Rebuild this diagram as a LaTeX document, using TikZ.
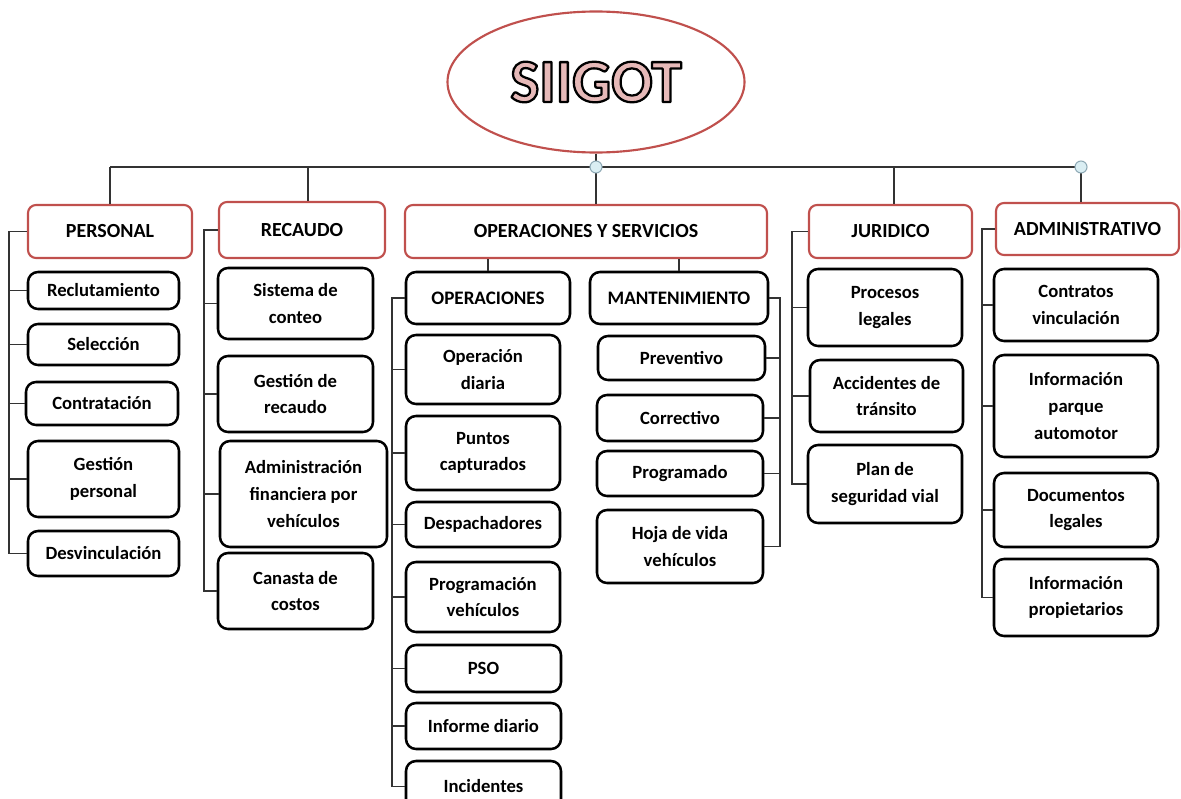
\documentclass[tikz,border=0pt]{standalone}
\usepackage{fontspec}
\setmainfont{Carlito}
\usetikzlibrary{shapes.geometric}
\definecolor{hred}{HTML}{C0504D}
\definecolor{sgpink}{HTML}{E6B9B8}
\definecolor{linegray}{HTML}{333333}
\definecolor{circfill}{HTML}{DAEEF3}
\definecolor{circline}{HTML}{8EA9B5}
\newcommand\bx[7]{\node[#1, minimum width={(#4-#2)*0.75pt}, minimum height={(#5-#3)*0.75pt}] (#6) at ({(#2+#4)/2},{(#3+#5)/2}) {#7};}
\newcommand\outlined[1]{{\color{sgpink}\special{pdf:literal direct 0 0 0 RG 2 Tr 1.7 w 1 j}#1\special{pdf:literal direct 0 Tr}}}
\tikzset{
  hbox/.style={draw=hred, line width=1.6pt, rounded corners=6pt, fill=white, inner sep=0pt, align=center, font=\bfseries\fontsize{15}{18}\selectfont},
  cbox/.style={draw=black, line width=1.9pt, rounded corners=7.5pt, fill=white, inner sep=0pt, align=center, font=\bfseries\fontsize{14}{20}\selectfont},
  sbox/.style={cbox, font=\bfseries\fontsize{14.3}{18}\selectfont},
  link/.style={draw=linegray, line width=1.1pt},
  knob/.style={circle, draw=circline, fill=circfill, line width=0.8pt, minimum size=9pt, inner sep=0pt}
}
\begin{document}
\begin{tikzpicture}[x=0.75pt,y=-0.75pt]
\useasboundingbox (0,0) rectangle (1181,799);
\clip (0,0) rectangle (1181,799);
\fill[white] (0,0) rectangle (1181,799);
% root
\node[ellipse, draw=hred, line width=1.6pt, fill=white, minimum width={297*0.75pt}, minimum height={141*0.75pt}, inner sep=0pt,
  font=\bfseries\fontsize{46}{50}\selectfont] (sig) at (596,82) {\outlined{SIIGOT}};
% level 1
\bx{hbox}{28}{205}{192}{258}{pers}{PERSONAL}
\bx{hbox}{219}{202}{385}{258}{rec}{RECAUDO}
\bx{hbox}{405}{205}{767}{258}{oys}{OPERACIONES Y SERVICIOS}
\bx{hbox}{809}{205}{972}{258}{jur}{JURIDICO}
\bx{hbox}{996}{203}{1179}{255}{adm}{ADMINISTRATIVO}
% personal
\bx{cbox}{28}{272}{179}{309}{rcl}{Reclutamiento}
\bx{cbox}{28}{324}{179}{365}{sel}{Selección}
\bx{cbox}{26}{382}{178}{425}{con}{Contratación}
\bx{cbox}{28}{441}{179}{517}{gp}{Gestión\\personal}
\bx{cbox}{28}{531}{179}{576}{des}{Desvinculación}
% recaudo
\bx{cbox}{218}{268}{373}{339}{sc}{Sistema de\\conteo}
\bx{cbox}{218}{356}{373}{432}{gr}{Gestión de\\recaudo}
\bx{cbox}{220}{441}{387}{547}{af}{Administración\\financiera por\\vehículos}
\bx{cbox}{218}{553}{373}{629}{cc}{Canasta de\\costos}
% operaciones y servicios
\bx{sbox}{406}{272}{570}{324}{opn}{OPERACIONES}
\bx{sbox}{590}{272}{768}{324}{mnt}{MANTENIMIENTO}
\bx{cbox}{406}{335}{560}{404}{od}{Operación\\diaria}
\bx{cbox}{406}{416}{560}{490}{pc}{Puntos\\capturados}
\bx{cbox}{406}{502}{560}{547}{dp}{Despachadores}
\bx{cbox}{406}{562}{560}{632}{pv}{Programación\\vehículos}
\bx{cbox}{406}{645}{561}{692}{pso}{PSO}
\bx{cbox}{406}{703}{561}{749}{idi}{Informe diario}
\bx{cbox}{406}{761}{561}{812}{inc}{Incidentes}
\bx{cbox}{598}{336}{765}{380}{pre}{Preventivo}
\bx{cbox}{597}{395}{763}{441}{cor}{Correctivo}
\bx{cbox}{597}{451}{763}{496}{prg}{Programado}
\bx{cbox}{597}{510}{763}{583}{hv}{Hoja de vida\\vehículos}
% juridico
\bx{cbox}{808}{269}{962}{346}{pl}{Procesos\\legales}
\bx{cbox}{810}{360}{963}{432}{at}{Accidentes de\\tránsito}
\bx{cbox}{808}{445}{962}{523}{ps}{Plan de\\seguridad vial}
% administrativo
\bx{cbox}{994}{269}{1158}{341}{cv}{Contratos\\vinculación}
\bx{cbox}{994}{355}{1158}{457}{ip}{Información\\parque\\automotor}
\bx{cbox}{994}{473}{1158}{547}{dl}{Documentos\\legales}
\bx{cbox}{994}{559}{1158}{636}{ipr}{Información\\propietarios}
% bus
\coordinate (bP) at (110,167);
\coordinate (bR) at (308,167);
\coordinate (bJ) at (894,167);
\coordinate (bA) at (1081,167);
\draw[link] (bP) -- (bA);
\draw[link] (bP) -- (bP |- pers.north);
\draw[link] (bR) -- (bR |- rec.north);
\draw[link] (sig.south) -- (sig.south |- oys.north);
\draw[link] (bJ) -- (bJ |- jur.north);
\draw[link] (bA) -- (bA |- adm.north);
\node[knob] (k1) at (sig.south |- bP) {};
\node[knob] (k2) at (bA) {};
% sub headers
\draw[link] (opn.north) -- (opn.north |- oys.south);
\draw[link] (mnt.north) -- (mnt.north |- oys.south);
% trunks
\coordinate (tP) at (9,0);
\coordinate (tR) at (204,0);
\coordinate (tO) at (392,0);
\coordinate (tM) at (780,0);
\coordinate (tJ) at (792,0);
\coordinate (tA) at (982,0);
\draw[link] (pers.west) -- (pers.west -| tP) -- (des.west -| tP) -- (des.west);
\foreach \n in {rcl,sel,con,gp} \draw[link] (\n.west) -- (\n.west -| tP);
\draw[link] (rec.west) -- (rec.west -| tR) -- (cc.west -| tR) -- (cc.west);
\foreach \n in {sc,gr,af} \draw[link] (\n.west) -- (\n.west -| tR);
\draw[link] (opn.west) -- (opn.west -| tO) -- (inc.west -| tO) -- (inc.west);
\foreach \n in {od,pc,dp,pv,pso,idi} \draw[link] (\n.west) -- (\n.west -| tO);
\draw[link] (mnt.east) -- (mnt.east -| tM) -- (hv.east -| tM) -- (hv.east);
\foreach \n in {pre,cor,prg} \draw[link] (\n.east) -- (\n.east -| tM);
\draw[link] (jur.west) -- (jur.west -| tJ) -- (ps.west -| tJ) -- (ps.west);
\foreach \n in {pl,at} \draw[link] (\n.west) -- (\n.west -| tJ);
\draw[link] (adm.west) -- (adm.west -| tA) -- (ipr.west -| tA) -- (ipr.west);
\foreach \n in {cv,ip,dl} \draw[link] (\n.west) -- (\n.west -| tA);
\end{tikzpicture}
\end{document}
